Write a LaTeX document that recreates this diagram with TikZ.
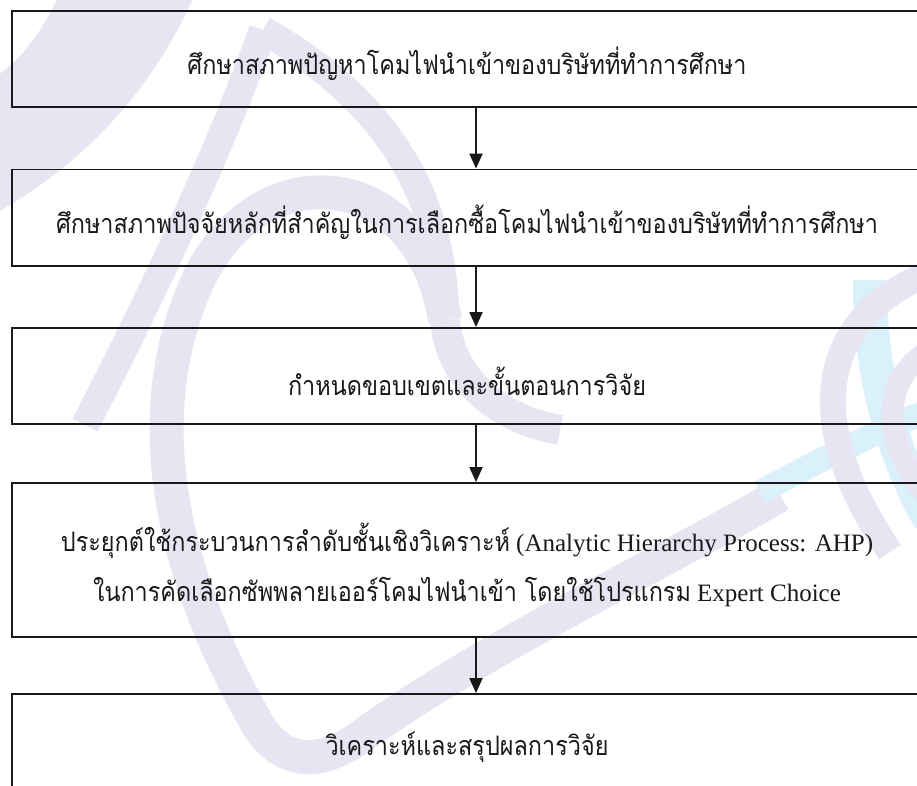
\documentclass[tikz,border=0pt]{standalone}
\usepackage{fontspec}
\setmainfont{Liberation Serif}
\newfontfamily\thaifont[Script=Thai]{Loma}
\usetikzlibrary{arrows.meta}
\definecolor{wmp}{RGB}{232,228,242}
\definecolor{wmc}{RGB}{218,240,250}
\definecolor{ink}{RGB}{25,25,25}
\newsavebox\refbox
\newcommand\thx{1}
\newcommand\tht[1]{\scalebox{\thx}[1.12]{\fontsize{24}{50}\selectfont\thaifont #1}}
\begin{document}
\sbox\refbox{\fontsize{24}{50}\selectfont\thaifont ศึกษาสภาพปัจจัยหลักที่สำคัญในการเลือกซื้อโคมไฟนำเข้าของบริษัทที่ทำการศึกษา}%
\pgfmathsetmacro\thx{822pt/\the\wd\refbox}%
\begin{tikzpicture}[x=1pt,y=-1pt,
  box/.style={draw=ink, line width=1.8pt, minimum width=910pt, inner sep=0pt},
  txt/.style={align=center, text=ink, inner sep=0pt, font=\fontsize{25}{50}\selectfont, yshift=-5pt},
  arr/.style={draw=ink, line width=1.8pt, -{Triangle[length=15pt,width=13pt]}},
  wm/.style={draw=wmp},
  wc/.style={draw=wmc}]
\clip (0,0) rectangle (917,785);
\fill[white] (0,0) rectangle (917,785);
% watermark (approximate)
\fill[wmp] (58,-2) .. controls (40,35) and (20,60) .. (-2,75) -- (-2,212)
   .. controls (80,165) and (150,95) .. (193,-2) -- cycle;
\draw[wm, line width=28pt] (263,30) .. controls (220,150) and (150,300) .. (85,425);
\draw[wm, line width=28pt] (263,30) .. controls (350,80) and (440,160) .. (445,310);
\draw[wm, line width=34pt] (193,292) .. controls (250,150) and (420,160) .. (445,320);
\draw[wm, line width=34pt] (193,292) .. controls (140,420) and (170,570) .. (255,720)
   .. controls (280,765) and (320,770) .. (370,730)
   .. controls (500,640) and (650,570) .. (780,495);
\draw[wm, line width=30pt] (445,320) .. controls (450,380) and (500,420) .. (560,430);
\draw[wc, line width=34pt] (870,280) .. controls (870,360) and (885,440) .. (930,520);
\draw[wc, line width=24pt] (760,492) .. controls (820,460) and (880,430) .. (930,410);
\draw[wm, line width=26pt] (925,275) .. controls (820,320) and (800,420) .. (890,552);
\draw[wm, line width=22pt] (930,350) .. controls (880,380) and (880,440) .. (930,500);
% boxes
\node[box, minimum height=96pt] (b1) at (467,59) {};
\node[box, minimum height=96.5pt] (b2) at (467,217.75) {};
\node[box, minimum height=96pt] (b3) at (467,376) {};
\node[box, minimum height=154pt] (b4) at (467,560) {};
\node[box, minimum height=96pt] (b5) at (467,742) {};
% texts
\node[txt] (t1) at (b1.center)
  {\tht{ศึกษาสภาพปัญหาโคมไฟนำเข้าของบริษัทที่ทำการศึกษา}};
\node[txt] (t2) at (b2.center)
  {\tht{ศึกษาสภาพปัจจัยหลักที่สำคัญในการเลือกซื้อโคมไฟนำเข้าของบริษัทที่ทำการศึกษา}};
\node[txt] (t3) at (b3.center)
  {\tht{กำหนดขอบเขตและขั้นตอนการวิจัย}};
\node[txt] (t4) at (b4.center)
  {\tht{ประยุกต์ใช้กระบวนการลำดับชั้นเชิงวิเคราะห์} (Analytic Hierarchy Process: AHP)\\
   \tht{ในการคัดเลือกซัพพลายเออร์โคมไฟนำเข้า โดยใช้โปรแกรม} Expert Choice};
\node[txt] (t5) at (b5.center)
  {\tht{วิเคราะห์และสรุปผลการวิจัย}};
% arrows
\coordinate (ax) at (476,0);
\draw[arr] (b1.south -| ax) -- (b2.north -| ax);
\draw[arr] (b2.south -| ax) -- (b3.north -| ax);
\draw[arr] (b3.south -| ax) -- (b4.north -| ax);
\draw[arr] (b4.south -| ax) -- (b5.north -| ax);
\end{tikzpicture}
\end{document}
